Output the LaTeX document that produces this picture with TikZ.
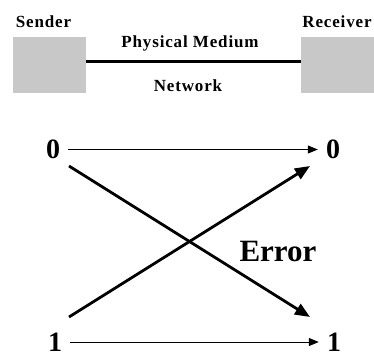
\documentclass[tikz,border=0pt]{standalone}
\usepackage{fontspec}
\setmainfont{Liberation Serif}
\newfontfamily\spacedserif[LetterSpace=5]{Liberation Serif}
\usetikzlibrary{arrows.meta}
\definecolor{boxgray}{RGB}{200,200,200}
\tikzset{
  hostbox/.style={fill=boxgray, draw=none, minimum width=73pt, minimum height=56.6pt, inner sep=0pt},
  toplabel/.style={font=\spacedserif\fontsize{17}{20}\selectfont\bfseries, anchor=base, inner sep=0pt},
  bit/.style={font=\fontsize{28}{32}\selectfont\bfseries, inner xsep=8pt, inner ysep=0pt},
  errlabel/.style={font=\fontsize{31}{36}\selectfont\bfseries, anchor=base, inner sep=0pt},
  medium/.style={line width=3pt},
  straight/.style={line width=1pt, -{Triangle[length=10pt,width=8pt]}},
  flipped/.style={line width=2.8pt, -{Triangle[length=15pt,width=12pt]}}
}
\begin{document}
\begin{tikzpicture}[x=1pt,y=-1pt]
\useasboundingbox (0,0) rectangle (374,356);

% sender, receiver and the link between them
\node[hostbox] (sbox) at (49.3,65) {};
\node[hostbox] (rbox) at (337.3,65) {};
\node[toplabel] (slab) at (43.5,27) {Sender};
\node[toplabel] (rlab) at (337,27) {Receiver};
\node[toplabel] (phys) at (190,47) {Physical Medium};
\node[toplabel] (net) at (188,91) {Network};
\draw[medium] ([yshift=4pt]sbox.east) -- ([yshift=4pt]rbox.west);

% binary channel
\node[bit] (l0) at (53,149.5) {0};
\node[bit] (r0) at (333,149.5) {0};
\node[bit] (l1) at (55,342) {1};
\node[bit] (r1) at (334,342) {1};
\draw[straight] (l0.east) -- (r0.west);
\draw[straight] (l1.east) -- (r1.west);

\coordinate (d0s) at (69,166);
\coordinate (d0e) at (310,317);
\coordinate (d1s) at (69,317);
\coordinate (d1e) at (310,166);
\draw[flipped] (d0s) -- (d0e);
\draw[flipped] (d1s) -- (d1e);

\node[errlabel] (err) at (278,261.5) {Error};
\end{tikzpicture}
\end{document}
